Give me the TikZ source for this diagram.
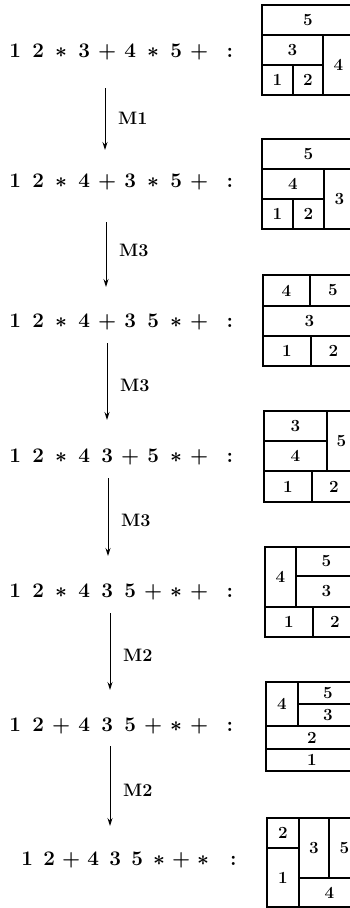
\documentclass[tikz,border=0pt]{standalone}
\usetikzlibrary{arrows.meta}
\newlength\tokw
\newcommand\tk[1]{\makebox[\tokw][c]{$#1$}}
\tikzset{
  expr/.style={anchor=base west, inner sep=0pt, font=\fontsize{20}{24}\selectfont\boldmath},
  mlabel/.style={anchor=west, inner sep=0pt, font=\fontsize{18}{20}\selectfont\bfseries},
  move/.style={line width=0.9pt, -{Stealth[length=8pt,width=5pt]}},
  cell/.style={draw, line width=1.1pt, inner sep=0pt, outer sep=0pt, rectangle, font=\fontsize{17}{19}\selectfont\bfseries}
}
\newcommand{\fpcell}[6]{\node[cell, minimum width={(#4-#2)*1pt}, minimum height={(#5-#3)*1pt}] (#1) at ({(#2+#4)/2},{(#3+#5)/2}) {#6};}
\begin{document}
\begin{tikzpicture}[x=1pt,y=-1pt]
\useasboundingbox (0,0) rectangle (350,908);
\clip (0,0) rectangle (350,908);
% expressions
\node[expr] (t1) at (3.5,57) {\setlength\tokw{23pt}\tk{1}\tk{2}\tk{*}\tk{3}\tk{+}\tk{4}\tk{*}\tk{5}\tk{+}\hspace{16pt}$:$};
\node[expr] (t2) at (3.5,187) {\setlength\tokw{23pt}\tk{1}\tk{2}\tk{*}\tk{4}\tk{+}\tk{3}\tk{*}\tk{5}\tk{+}\hspace{16pt}$:$};
\node[expr] (t3) at (3.5,327) {\setlength\tokw{23pt}\tk{1}\tk{2}\tk{*}\tk{4}\tk{+}\tk{3}\tk{5}\tk{*}\tk{+}\hspace{16pt}$:$};
\node[expr] (t4) at (3.5,462) {\setlength\tokw{23pt}\tk{1}\tk{2}\tk{*}\tk{4}\tk{3}\tk{+}\tk{5}\tk{*}\tk{+}\hspace{16pt}$:$};
\node[expr] (t5) at (3.5,597) {\setlength\tokw{23pt}\tk{1}\tk{2}\tk{*}\tk{4}\tk{3}\tk{5}\tk{+}\tk{*}\tk{+}\hspace{16pt}$:$};
\node[expr] (t6) at (3.5,731) {\setlength\tokw{23pt}\tk{1}\tk{2}\tk{+}\tk{4}\tk{3}\tk{5}\tk{+}\tk{*}\tk{+}\hspace{16pt}$:$};
\node[expr] (t7) at (16,865) {\setlength\tokw{22pt}\tk{1}\tk{2}\tk{+}\tk{4}\tk{3}\tk{5}\tk{*}\tk{+}\tk{*}\hspace{16pt}$:$};
% arrows
\coordinate (a1s) at (105,88);  \coordinate (a1e) at (105,150);
\coordinate (a2s) at (106,222); \coordinate (a2e) at (106,287);
\coordinate (a3s) at (107,343); \coordinate (a3e) at (107,420);
\coordinate (a4s) at (108,478); \coordinate (a4e) at (108,556);
\coordinate (a5s) at (110,613); \coordinate (a5e) at (110,690);
\coordinate (a6s) at (110,746); \coordinate (a6e) at (110,826);
\draw[move] (a1s) -- (a1e);
\draw[move] (a2s) -- (a2e);
\draw[move] (a3s) -- (a3e);
\draw[move] (a4s) -- (a4e);
\draw[move] (a5s) -- (a5e);
\draw[move] (a6s) -- (a6e);
\node[mlabel] (m1) at (118,118) {M1};
\node[mlabel] (m2) at (119,250) {M3};
\node[mlabel] (m3) at (120,385) {M3};
\node[mlabel] (m4) at (121,520) {M3};
\node[mlabel] (m5) at (123,655) {M2};
\node[mlabel] (m6) at (123,790) {M2};
% floorplan 1
\fpcell{b1c5}{262}{5}{354}{35}{5}
\fpcell{b1c3}{262}{35}{323}{65}{3}
\fpcell{b1c4}{323}{35}{354}{95}{4}
\fpcell{b1c1}{262}{65}{293}{95}{1}
\fpcell{b1c2}{293}{65}{323}{95}{2}
% floorplan 2
\fpcell{b2c5}{262}{139}{355}{169}{5}
\fpcell{b2c4}{262}{169}{324}{199}{4}
\fpcell{b2c3}{324}{169}{355}{229}{3}
\fpcell{b2c1}{262}{199}{293}{229}{1}
\fpcell{b2c2}{293}{199}{324}{229}{2}
% floorplan 3
\fpcell{b3c4}{263}{275}{310}{306}{4}
\fpcell{b3c5}{310}{275}{356}{306}{5}
\fpcell{b3c3}{263}{306}{356}{336}{3}
\fpcell{b3c1}{263}{336}{311}{366}{1}
\fpcell{b3c2}{311}{336}{356}{366}{2}
% floorplan 4
\fpcell{b4c3}{264}{411}{327}{441}{3}
\fpcell{b4c4}{264}{441}{327}{471}{4}
\fpcell{b4c5}{327}{411}{356}{471}{5}
\fpcell{b4c1}{264}{471}{312}{502}{1}
\fpcell{b4c2}{312}{471}{356}{502}{2}
% floorplan 5
\fpcell{b5c4}{265}{547}{296}{607}{4}
\fpcell{b5c5}{296}{547}{357}{576}{5}
\fpcell{b5c3}{296}{576}{357}{607}{3}
\fpcell{b5c1}{265}{607}{313}{637}{1}
\fpcell{b5c2}{313}{607}{357}{637}{2}
% floorplan 6
\fpcell{b6c4}{266}{682}{298}{726}{4}
\fpcell{b6c5}{298}{682}{358}{704}{5}
\fpcell{b6c3}{298}{704}{358}{726}{3}
\fpcell{b6c2}{266}{726}{358}{749}{2}
\fpcell{b6c1}{266}{749}{358}{771}{1}
% floorplan 7
\fpcell{b7c2}{267}{818}{299}{848}{2}
\fpcell{b7c1}{267}{848}{299}{907}{1}
\fpcell{b7c3}{299}{818}{329}{878}{3}
\fpcell{b7c5}{329}{818}{360}{878}{5}
\fpcell{b7c4}{299}{878}{360}{907}{4}
\end{tikzpicture}
\end{document}
